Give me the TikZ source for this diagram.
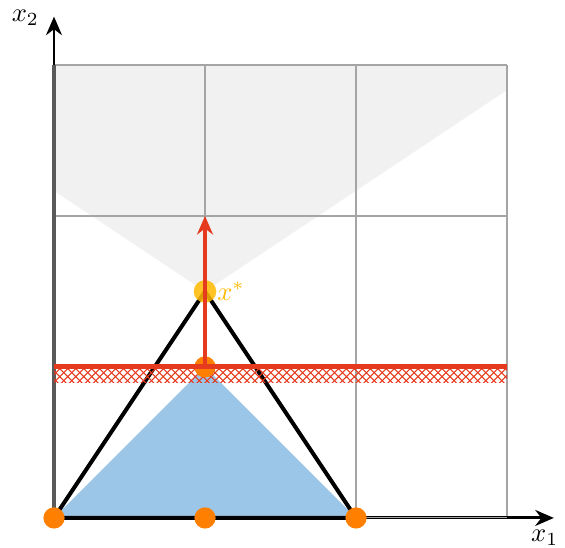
\documentclass[tikz,border=0pt]{standalone}
\usetikzlibrary{patterns,arrows.meta}
\definecolor{gridgray}{RGB}{165,165,165}
\definecolor{conegray}{RGB}{241,241,241}
\definecolor{feasblue}{RGB}{155,198,232}
\definecolor{cutred}{RGB}{229,58,30}
\definecolor{dotorange}{RGB}{255,128,0}
\definecolor{staryellow}{RGB}{255,185,0}
\begin{document}
\begin{tikzpicture}[x=2cm,y=2cm,
  dotnode/.style={circle,fill=dotorange,inner sep=0pt,minimum size=8pt},
  stardot/.style={circle,fill=staryellow,fill opacity=0.85,inner sep=0pt,minimum size=8.5pt},
  axisline/.style={line width=1.1pt,-{Stealth[length=7pt,width=6pt]}},
  triline/.style={line width=1.5pt,line join=round}]
\useasboundingbox (-0.3576,-0.1987) rectangle (3.384,3.430);
% coordinates
\coordinate (O) at (0,0);
\coordinate (A) at (2,0);
\coordinate (T) at (1,1.5);
\coordinate (C) at (1,1);
\coordinate (G) at (1,2);
% gray cone
\fill[conegray] (0,2.1667) -- (T) -- (3,2.8333) -- (3,3) -- (0,3) -- cycle;
% grid
\draw[gridgray,line width=0.45pt,step=2cm] (0,0) grid (3,3);
% blue region
\fill[feasblue] (O) -- (C) -- (A) -- cycle;
% axes
\draw[axisline] (0,0) -- (3.31,0) coordinate (xend);
\draw[axisline] (0,0) -- (0,3.32) coordinate (yend);
\draw[gray!70!black,line width=1.2pt] (0,0) -- (0,3);
\draw[gridgray,line width=0.4pt] (2,0) -- (3,0);
\node (x1) at (3.25,-0.13) {$x_1$};
\node (x2) at (-0.19,3.31) {$x_2$};
% triangle
\draw[triline] (O) -- (T) -- (A) -- cycle;
% hatched band
\fill[pattern=crosshatch,pattern color=cutred] (0,0.9) rectangle (3,1);
% dots
\node[dotnode] (d0) at (O) {};
\node[dotnode] (d1) at (1,0) {};
\node[dotnode] (d2) at (A) {};
\node[dotnode] (dc) at (C) {};
\node[stardot] (ds) at (T) {};
\node[anchor=west,text=staryellow,inner sep=1pt] (xs) at (1.06,1.5) {$x^*$};
% red cut line
\draw[cutred,line width=1.9pt] (0,1) -- (3,1);
% red arrow
\draw[cutred,line width=1.5pt,-{Stealth[length=7pt,width=6pt]}] (C) -- (G);
\end{tikzpicture}
\end{document}
